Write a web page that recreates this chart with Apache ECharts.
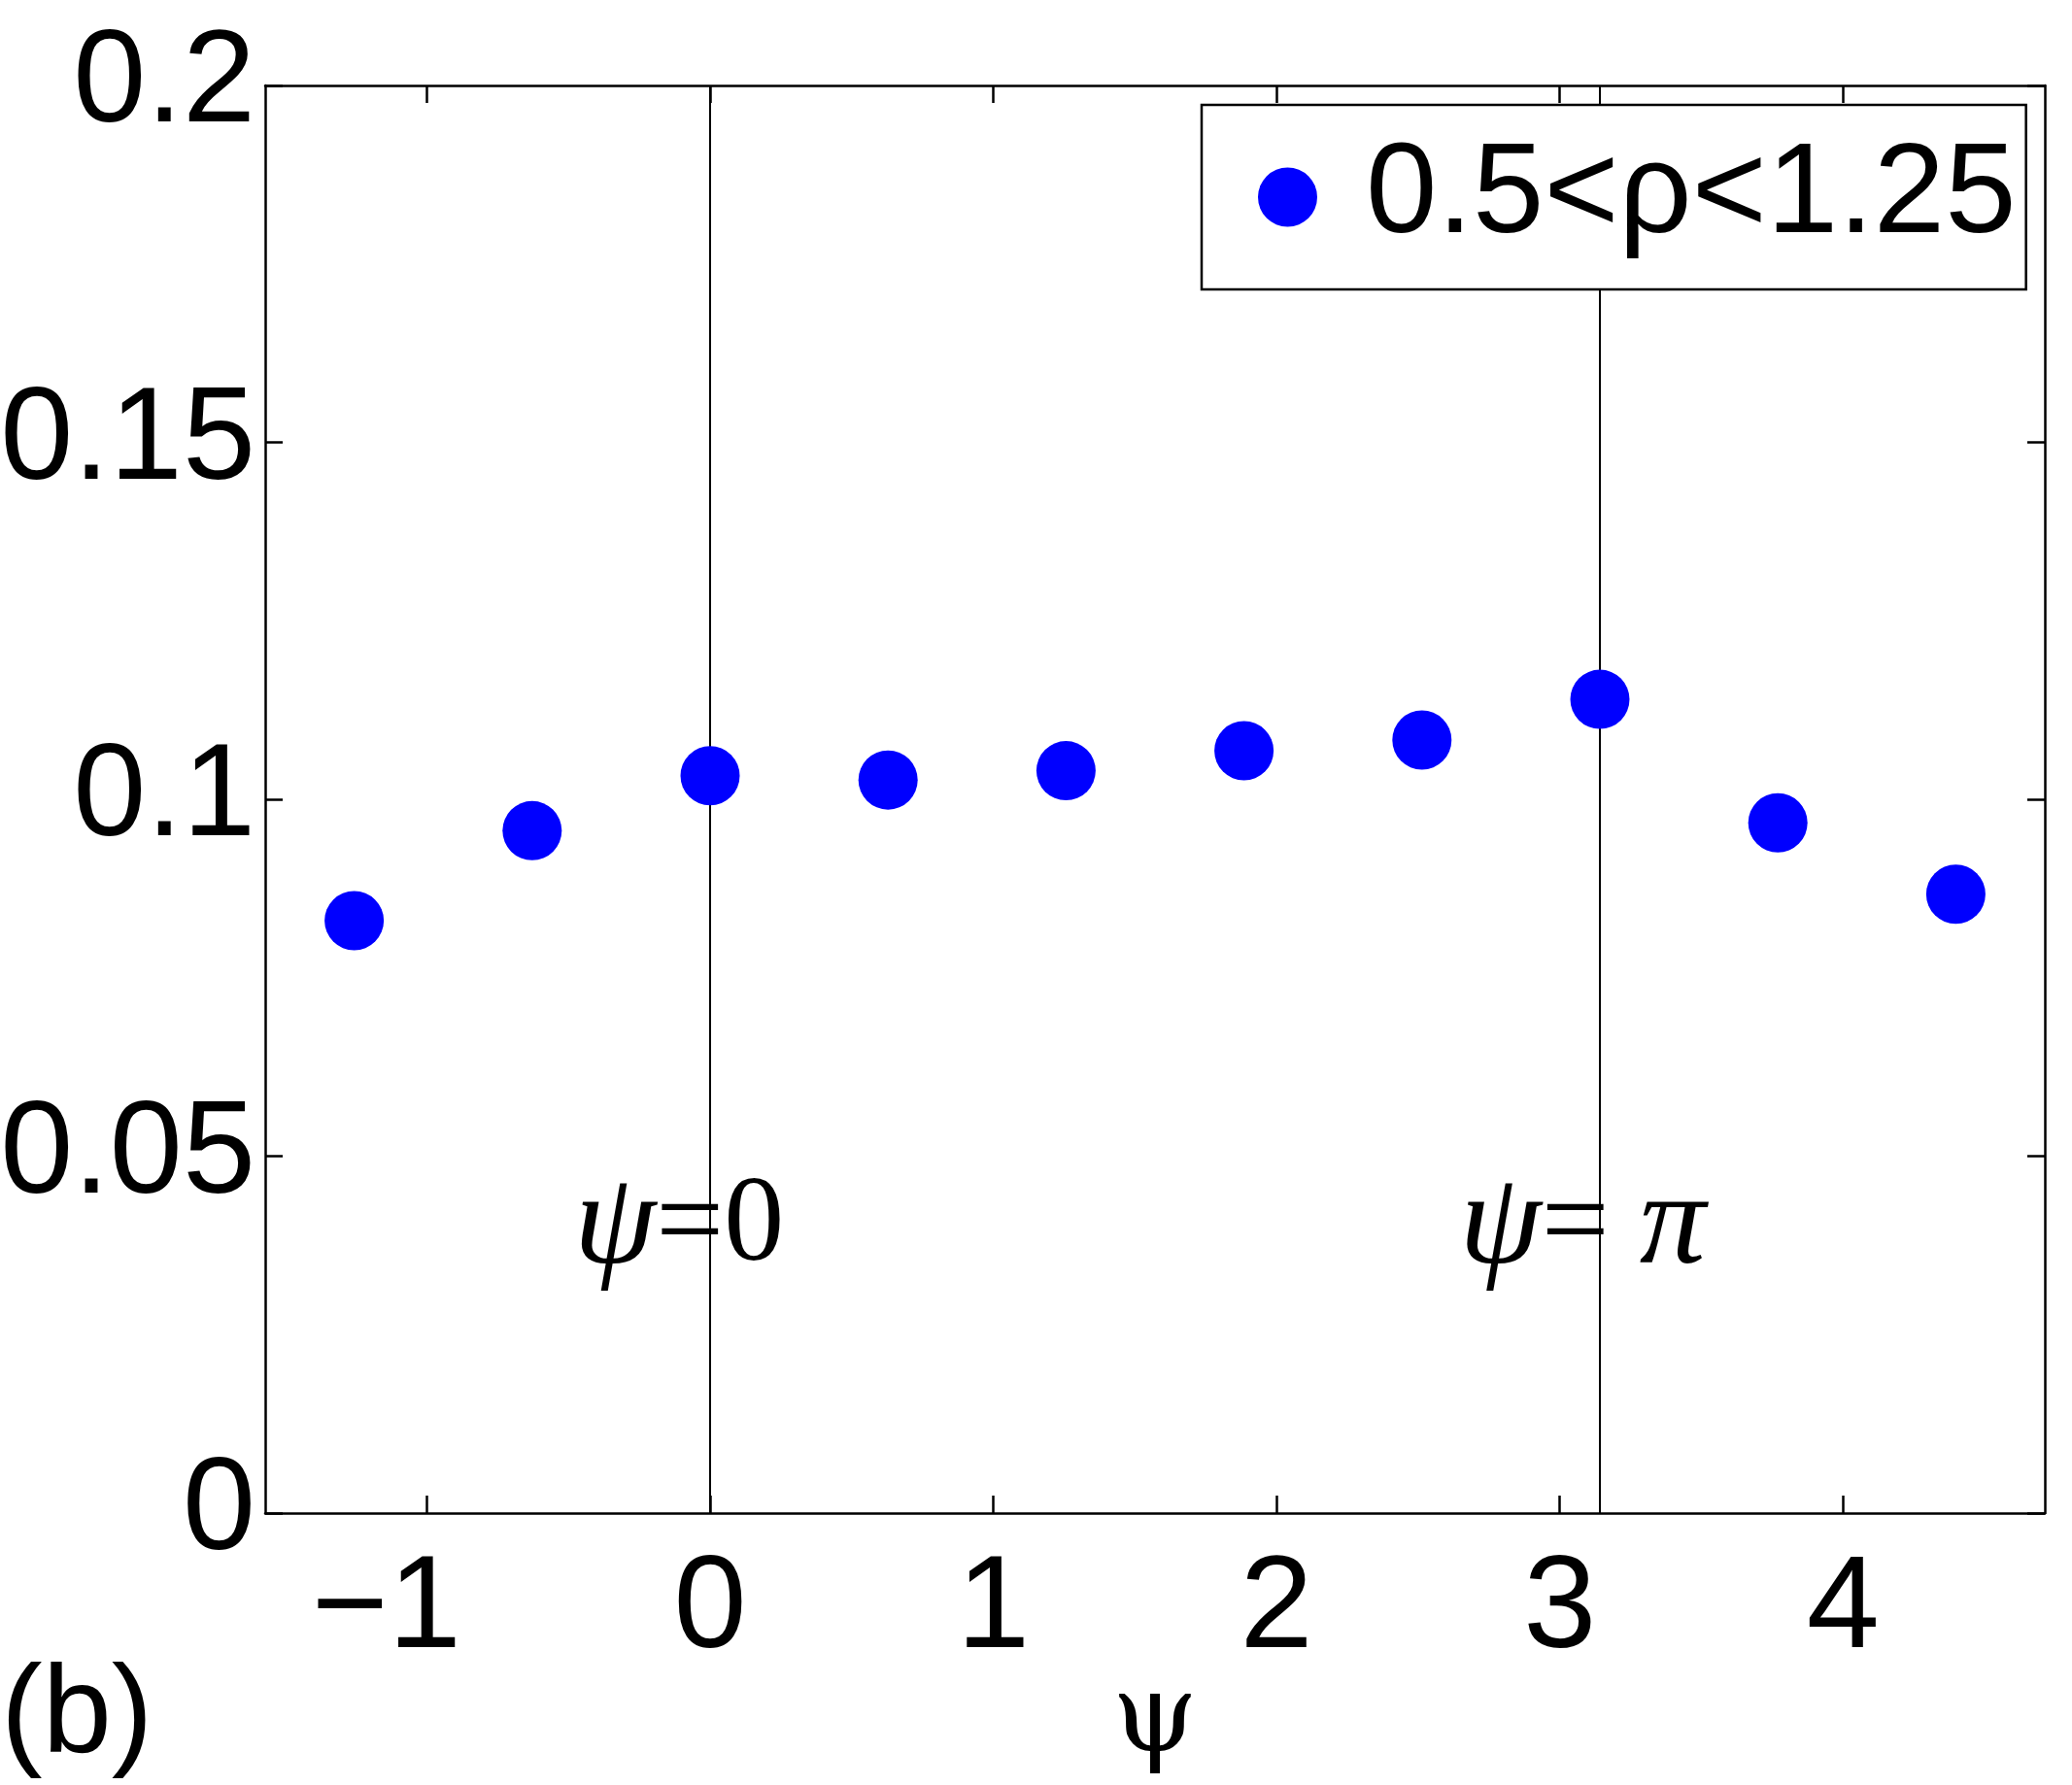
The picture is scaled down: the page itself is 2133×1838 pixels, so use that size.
<!DOCTYPE html>
<html>
<head>
<meta charset="utf-8">
<script src="https://cdn.jsdelivr.net/npm/echarts@6/dist/echarts.min.js"></script>
<style>
html,body{margin:0;padding:0;background:#fff;}
#chart{width:2133px;height:1838px;}
</style>
</head>
<body>
<div id="chart"></div>
<script>
// ---- data ----
const psiValues = [-1.2566, -0.6283, 0, 0.6283, 1.2566, 1.8850, 2.5133, 3.1416, 3.7699, 4.3982];
const fractionValues = [0.0830, 0.0956, 0.1033, 0.1027, 0.1040, 0.1068, 0.1083, 0.1140, 0.0967, 0.0867];
const xTickValues = [-1, 0, 1, 2, 3, 4];
const yTickValues = [0, 0.05, 0.1, 0.15, 0.2];
const xRange = [-1.5708, 4.7124];
const yRange = [0, 0.2];
const refLineX = [0, 3.1416];
const annotations = [
  {x: -0.11, y: 0.04, text: '{it|ψ}{rm|=0}'},
  {x: 3.08, y: 0.04, text: '{it|ψ}{rm|= }{it|π}'}
];
const seriesName = '0.5<ρ<1.25';
const xAxisName = 'ψ';
const panelLabel = '(b)';

// ---- chart ----
const chart = echarts.init(document.getElementById('chart'), null, {renderer: 'canvas'});
const sans = 'Liberation Sans, Arial, Helvetica, sans-serif';
const serif = 'Liberation Serif, Times New Roman, serif';
const lineStyle = {color: '#000', width: 2.5};
const tickStyle = {color: '#000', width: 2.5};

const points = psiValues.map((x, i) => [x, fractionValues[i]]);

const option = {
  animation: false,
  backgroundColor: '#fff',
  title: {
    text: panelLabel,
    left: -4,
    top: 1700,
    textStyle: {fontFamily: sans, fontSize: 128, fontWeight: 'normal', color: '#000'}
  },
  grid: {left: 273, right: 28, top: 88, bottom: 280, containLabel: false, outerBoundsMode: 'none'},
  legend: {
    data: [seriesName],
    left: 1237,
    top: 108,
    orient: 'horizontal',
    icon: 'circle',
    itemWidth: 151,
    itemHeight: 61,
    padding: [29, 10, 29, 58],
    backgroundColor: '#fff',
    borderColor: '#000',
    borderWidth: 2.5,
    borderRadius: 0,
    textStyle: {fontFamily: sans, fontSize: 132, color: '#000'}
  },
  xAxis: [
    {
      type: 'value',
      position: 'bottom',
      min: xRange[0],
      max: xRange[1],
      name: xAxisName,
      nameLocation: 'middle',
      nameGap: 160,
      nameMoveOverlap: false,
      nameTextStyle: {fontFamily: 'DejaVu Serif, serif', fontSize: 112, color: '#000'},
      axisLine: {show: true, onZero: false, lineStyle: lineStyle},
      axisTick: {show: true, inside: true, length: 18, lineStyle: tickStyle, customValues: xTickValues},
      axisLabel: {
        show: true, margin: 33, fontFamily: sans, fontSize: 135, color: '#000',
        customValues: xTickValues,
        formatter: v => (v < 0 ? '{neg|\u2212' + Math.abs(v) + '}' : String(v)),
        rich: {neg: {fontFamily: sans, fontSize: 135, color: '#000', padding: [0, 83, 0, 0]}}
      },
      splitLine: {show: false}
    },
    {
      type: 'value',
      position: 'top',
      min: xRange[0],
      max: xRange[1],
      axisLine: {show: true, onZero: false, lineStyle: lineStyle},
      axisTick: {show: true, inside: true, length: 18, lineStyle: tickStyle, customValues: xTickValues},
      axisLabel: {show: false},
      splitLine: {show: false}
    }
  ],
  yAxis: [
    {
      type: 'value',
      position: 'left',
      min: yRange[0],
      max: yRange[1],
      interval: 0.05,
      axisLine: {show: true, onZero: false, lineStyle: lineStyle},
      axisTick: {show: true, inside: true, length: 18, lineStyle: tickStyle},
      axisLabel: {show: true, margin: 10, fontFamily: sans, fontSize: 135, color: '#000',
        formatter: v => String(Math.round(v * 100) / 100)},
      splitLine: {show: false}
    },
    {
      type: 'value',
      position: 'right',
      min: yRange[0],
      max: yRange[1],
      interval: 0.05,
      axisLine: {show: true, onZero: false, lineStyle: lineStyle},
      axisTick: {show: true, inside: true, length: 18, lineStyle: tickStyle},
      axisLabel: {show: false},
      splitLine: {show: false}
    }
  ],
  series: [
    {
      name: seriesName,
      type: 'scatter',
      xAxisIndex: 0,
      yAxisIndex: 0,
      symbol: 'circle',
      symbolSize: 61,
      itemStyle: {color: '#0000ff', opacity: 1},
      data: points,
      z: 3,
      markLine: {
        silent: true,
        symbol: ['none', 'none'],
        label: {show: false},
        lineStyle: {color: '#000', width: 2, type: 'solid'},
        data: refLineX.map(x => ({xAxis: x})),
        z: 1
      },
      markPoint: {
        silent: true,
        symbol: 'circle',
        symbolSize: 0,
        itemStyle: {color: 'transparent'},
        label: {
          show: true,
          position: 'inside',
          color: '#000',
          rich: {
            it: {fontFamily: serif, fontStyle: 'italic', fontSize: 136, color: '#000'},
            rm: {fontFamily: serif, fontSize: 124, color: '#000'}
          }
        },
        data: annotations.map(a => ({coord: [a.x, a.y], label: {formatter: a.text}}))
      }
    }
  ]
};
chart.setOption(option);
</script>
</body>
</html>
